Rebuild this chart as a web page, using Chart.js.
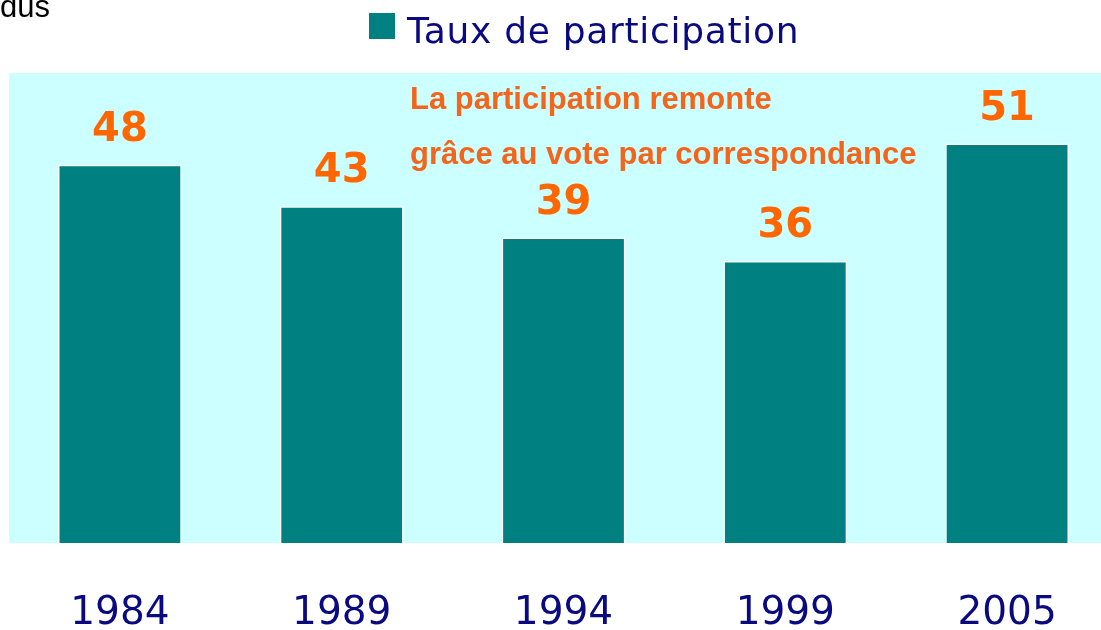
<!DOCTYPE html>
<html><head><meta charset="utf-8">
<script src="https://cdn.jsdelivr.net/npm/chart.js@4.4.1/dist/chart.umd.min.js"></script>
<style>html,body{margin:0;padding:0;overflow:hidden;background:#fff;width:1101px;height:630px}#wrap{width:1120px;height:630px}</style>
</head><body><div id="wrap"><canvas id="c" width="1120" height="630"></canvas></div>
<script>
const categories = ['1984', '1989', '1994', '1999', '2005'];
const participation = [48.3, 43, 39, 36, 51];
const seriesLabel = 'Taux de participation';
const noteLines = ['La participation remonte', 'grâce au vote par correspondance'];
const cornerText = 'dus';

const TEAL = '#008080', CYAN = '#CCFFFF', NAVY = '#0A0A80', ORANGE = '#FF6600', NOTE = '#F4641A';

const bgPlugin = {
  id: 'bg',
  beforeDraw(chart) {
    const {ctx, chartArea: a} = chart;
    ctx.save();
    ctx.fillStyle = CYAN;
    ctx.fillRect(a.left, a.top, a.right - a.left, a.bottom - a.top);
    ctx.restore();
  }
};

const overlayPlugin = {
  id: 'overlay',
  afterDraw(chart) {
    const {ctx, chartArea: a} = chart;
    ctx.save();
    // values above bars
    const meta = chart.getDatasetMeta(0);
    ctx.font = 'bold 40px "DejaVu Sans"';
    ctx.fillStyle = ORANGE;
    ctx.textAlign = 'center';
    ctx.textBaseline = 'alphabetic';
    meta.data.forEach((bar, i) => {
      ctx.fillText(String(Math.round(chart.data.datasets[0].data[i])), bar.x, bar.y - 24);
    });
    // annotation
    ctx.font = 'bold 31px "Liberation Sans"';
    ctx.fillStyle = NOTE;
    ctx.textAlign = 'left';
    noteLines.forEach((t, i) => ctx.fillText(t, a.left + 401, a.top + 36 + i * 55));
    // legend
    const ds = chart.data.datasets[0];
    ctx.fillStyle = ds.backgroundColor;
    ctx.fillRect(369, 13, 26, 26);
    ctx.font = '36px "DejaVu Sans"';
    try { ctx.letterSpacing = '0.7px'; } catch (e) {}
    ctx.fillStyle = NAVY;
    ctx.fillText(ds.label, 407, 43);
    try { ctx.letterSpacing = '0px'; } catch (e) {}
    // corner text
    ctx.font = '31px "Liberation Sans"';
    ctx.fillStyle = '#000';
    ctx.fillText(cornerText, 0, 17);
    ctx.restore();
  }
};

new Chart(document.getElementById('c'), {
  type: 'bar',
  data: {
    labels: categories,
    datasets: [{
      label: seriesLabel,
      data: participation,
      backgroundColor: TEAL,
      borderColor: '#ffffff',
      borderWidth: 1.5,
      borderSkipped: 'start',
      categoryPercentage: 1,
      barPercentage: 0.558
    }]
  },
  options: {
    responsive: false,
    animation: false,
    events: [],
    layout: { padding: { left: 9, right: 2, top: 73, bottom: 0 } },
    plugins: { legend: { display: false }, tooltip: { enabled: false } },
    scales: {
      y: { display: false, min: 0, max: 60 },
      x: {
        grid: { display: false, drawTicks: false },
        border: { display: false },
        ticks: { color: NAVY, font: { family: 'DejaVu Sans', size: 39 }, padding: 47 },
        afterFit(s) { s.height = 87; }
      }
    }
  },
  plugins: [bgPlugin, overlayPlugin]
});
</script></body></html>
